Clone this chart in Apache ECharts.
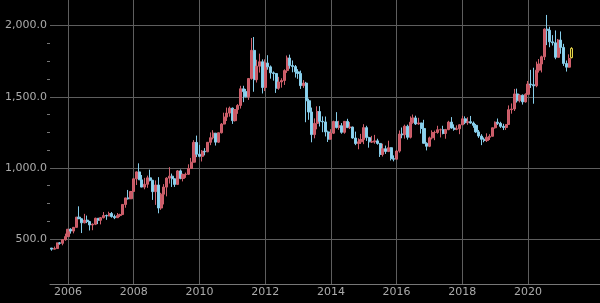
<!DOCTYPE html>
<html>
<head>
<meta charset="utf-8">
<script src="https://cdn.jsdelivr.net/npm/echarts@6/dist/echarts.min.js"></script>
<style>
html,body{margin:0;padding:0;background:#000;}
#c{width:600px;height:303px;}
</style>
</head>
<body>
<div id="c"></div>
<script>
// Monthly candles, Jul 2005 .. May 2021 (last one is the current, incomplete month)
const dates = [
 '2005-07','2005-08','2005-09','2005-10','2005-11','2005-12',
 '2006-01','2006-02','2006-03','2006-04','2006-05','2006-06','2006-07','2006-08','2006-09','2006-10','2006-11','2006-12',
 '2007-01','2007-02','2007-03','2007-04','2007-05','2007-06','2007-07','2007-08','2007-09','2007-10','2007-11','2007-12',
 '2008-01','2008-02','2008-03','2008-04','2008-05','2008-06','2008-07','2008-08','2008-09','2008-10','2008-11','2008-12',
 '2009-01','2009-02','2009-03','2009-04','2009-05','2009-06','2009-07','2009-08','2009-09','2009-10','2009-11','2009-12',
 '2010-01','2010-02','2010-03','2010-04','2010-05','2010-06','2010-07','2010-08','2010-09','2010-10','2010-11','2010-12',
 '2011-01','2011-02','2011-03','2011-04','2011-05','2011-06','2011-07','2011-08','2011-09','2011-10','2011-11','2011-12',
 '2012-01','2012-02','2012-03','2012-04','2012-05','2012-06','2012-07','2012-08','2012-09','2012-10','2012-11','2012-12',
 '2013-01','2013-02','2013-03','2013-04','2013-05','2013-06','2013-07','2013-08','2013-09','2013-10','2013-11','2013-12',
 '2014-01','2014-02','2014-03','2014-04','2014-05','2014-06','2014-07','2014-08','2014-09','2014-10','2014-11','2014-12',
 '2015-01','2015-02','2015-03','2015-04','2015-05','2015-06','2015-07','2015-08','2015-09','2015-10','2015-11','2015-12',
 '2016-01','2016-02','2016-03','2016-04','2016-05','2016-06','2016-07','2016-08','2016-09','2016-10','2016-11','2016-12',
 '2017-01','2017-02','2017-03','2017-04','2017-05','2017-06','2017-07','2017-08','2017-09','2017-10','2017-11','2017-12',
 '2018-01','2018-02','2018-03','2018-04','2018-05','2018-06','2018-07','2018-08','2018-09','2018-10','2018-11','2018-12',
 '2019-01','2019-02','2019-03','2019-04','2019-05','2019-06','2019-07','2019-08','2019-09','2019-10','2019-11','2019-12',
 '2020-01','2020-02','2020-03','2020-04','2020-05','2020-06','2020-07','2020-08','2020-09','2020-10','2020-11','2020-12',
 '2021-01','2021-02','2021-03','2021-04','2021-05'
];

const open = [
 437,429,433,473,470,495,
 517,569,556,582,654,643,614,633,623,599,604,646,
 632,650,665,662,679,658,650,665,672,743,789,783,
 834,923,972,916,865,885,930,913,833,880,718,815,
 865,928,942,924,884,979,926,954,955,996,1040,1179,
 1096,1081,1117,1113,1180,1212,1244,1181,1247,1308,1357,1385,
 1420,1332,1410,1439,1556,1536,1500,1628,1826,1620,1715,1746,
 1565,1737,1710,1668,1663,1560,1604,1614,1684,1772,1719,1712,
 1675,1664,1578,1596,1472,1393,1234,1313,1396,1327,1323,1253,
 1202,1244,1326,1284,1296,1250,1327,1283,1287,1210,1171,1183,
 1199,1283,1213,1183,1183,1190,1172,1095,1135,1115,1142,1065,
 1061,1118,1238,1233,1293,1215,1321,1351,1309,1316,1277,1173,
 1152,1211,1249,1249,1268,1268,1242,1269,1322,1280,1271,1275,
 1303,1345,1318,1325,1315,1299,1253,1224,1201,1192,1215,1222,
 1282,1321,1313,1292,1284,1305,1409,1414,1520,1472,1511,1464,
 1517,1589,1585,1577,1687,1730,1781,1975,1967,1886,1879,1777,
 1898,1847,1734,1708,1775
];
const close = [
 429,433,473,470,495,517,
 569,556,582,654,643,614,633,623,599,604,646,632,
 650,665,662,679,658,650,665,672,743,789,783,834,
 923,972,916,865,885,930,913,833,880,718,815,865,
 928,942,924,884,979,926,954,955,996,1040,1179,1096,
 1081,1117,1113,1180,1212,1244,1181,1247,1308,1357,1385,1420,
 1332,1410,1439,1556,1536,1500,1628,1826,1620,1715,1746,1565,
 1737,1710,1668,1663,1560,1604,1614,1684,1772,1719,1712,1675,
 1664,1578,1596,1472,1393,1234,1313,1396,1327,1323,1253,1202,
 1244,1326,1284,1296,1250,1327,1283,1287,1210,1171,1183,1199,
 1283,1213,1183,1183,1190,1172,1095,1135,1115,1142,1065,1061,
 1118,1238,1233,1293,1215,1321,1351,1309,1316,1277,1173,1152,
 1211,1249,1249,1268,1268,1242,1269,1322,1280,1271,1275,1303,
 1345,1318,1325,1315,1299,1253,1224,1201,1192,1215,1222,1282,
 1321,1313,1292,1284,1305,1409,1414,1520,1472,1511,1464,1517,
 1589,1585,1577,1687,1730,1781,1975,1967,1886,1879,1777,1898,
 1847,1734,1708,1769,1840
];
const low = [
 418,428,433,460,456,488,
 516,538,540,581,640,542,610,612,560,562,598,605,
 603,645,635,660,650,640,648,655,670,720,777,781,
 834,880,915,864,850,860,905,775,740,681,705,743,
 800,890,866,866,880,920,905,930,950,995,1040,1076,
 1075,1045,1088,1111,1160,1200,1157,1176,1242,1306,1330,1360,
 1309,1326,1380,1417,1462,1496,1478,1620,1535,1600,1670,1523,
 1540,1690,1627,1613,1527,1549,1564,1583,1668,1697,1672,1635,
 1626,1555,1562,1321,1338,1180,1208,1271,1291,1251,1221,1182,
 1200,1238,1277,1268,1240,1240,1280,1273,1205,1160,1131,1168,
 1167,1190,1142,1175,1170,1163,1077,1080,1098,1111,1052,1046,
 1062,1107,1208,1206,1199,1207,1310,1302,1303,1241,1171,1123,
 1146,1200,1195,1240,1214,1236,1205,1265,1275,1261,1265,1237,
 1302,1307,1303,1310,1282,1246,1211,1160,1180,1182,1196,1221,
 1276,1302,1281,1266,1267,1304,1381,1400,1459,1460,1445,1459,
 1517,1562,1451,1567,1670,1671,1758,1863,1848,1860,1764,1776,
 1802,1717,1677,1705,1770
];
const high = [
 437,447,475,479,496,538,
 570,576,585,654,730,644,677,665,628,610,650,648,
 655,690,672,692,690,672,683,678,745,790,845,838,
 930,975,1032,950,930,946,988,916,912,935,825,886,
 934,1005,960,925,985,989,960,967,1025,1070,1195,1227,
 1162,1125,1139,1182,1249,1265,1245,1248,1315,1388,1424,1431,
 1424,1411,1448,1577,1577,1555,1632,1913,1920,1760,1803,1763,
 1763,1792,1720,1678,1667,1640,1630,1693,1790,1796,1755,1723,
 1694,1684,1617,1605,1487,1424,1348,1433,1434,1362,1361,1262,
 1272,1332,1392,1331,1315,1327,1345,1322,1290,1255,1208,1239,
 1307,1296,1219,1225,1232,1205,1175,1170,1157,1191,1146,1088,
 1125,1263,1284,1304,1304,1362,1375,1367,1352,1317,1338,1180,
 1220,1264,1262,1296,1276,1296,1274,1331,1357,1306,1299,1307,
 1366,1362,1356,1365,1326,1309,1266,1237,1214,1243,1237,1284,
 1326,1347,1324,1310,1306,1439,1453,1555,1557,1518,1516,1524,
 1611,1689,1704,1747,1765,1789,1981,2075,1992,1933,1966,1906,
 1959,1872,1755,1798,1848
];

const yearTicks = [2006, 2008, 2010, 2012, 2014, 2016, 2018, 2020];
const priceTicks = [500, 1000, 1500, 2000];
const minorPriceTicks = [625, 750, 875, 1125, 1250, 1375, 1625, 1750, 1875];

const toYear = s => { const p = s.split('-'); return +p[0] + (+p[1] - 1) / 12; };
const lastIdx = dates.length - 1;
const candles = dates.map((d, i) => {
  const item = { value: [toYear(d), open[i], close[i], low[i], high[i]] };
  if (i === lastIdx) {
    item.itemStyle = { color: '#2a2400', color0: '#2a2400', borderColor: '#e8d64a', borderColor0: '#e8d64a', borderWidth: 1 };
  }
  return item;
});

const chart = echarts.init(document.getElementById('c'), null, { renderer: 'canvas' });
const gridColor = '#5e5e5e';
const textColor = '#ababab';
chart.setOption({
  backgroundColor: '#000000',
  animation: false,
  grid: { left: 50, right: 0, top: 0, bottom: 19, containLabel: false, outerBoundsMode: 'none' },
  xAxis: {
    type: 'value',
    min: 2005.452,
    max: 2022.19,
    axisLine: { show: true, lineStyle: { color: '#777777', width: 1 } },
    axisTick: { show: false, customValues: yearTicks },
    axisLabel: { customValues: yearTicks, color: textColor, fontFamily: 'DejaVu Sans', fontSize: 11, margin: 3, formatter: v => String(Math.round(v)) },
    splitLine: { show: true, lineStyle: { color: gridColor, width: 1 } }
  },
  yAxis: [{
    type: 'value',
    min: 184,
    max: 2180,
    axisLine: { show: false },
    axisTick: { show: false, customValues: priceTicks },
    axisLabel: { customValues: priceTicks, color: textColor, fontFamily: 'DejaVu Sans', fontSize: 11, margin: 3,
      formatter: v => v.toLocaleString('en-US', { minimumFractionDigits: 1, maximumFractionDigits: 1 }) },
    splitLine: { show: true, lineStyle: { color: gridColor, width: 1 } }
  }, {
    type: 'value',
    position: 'left',
    min: 184,
    max: 2180,
    axisLine: { show: false },
    axisLabel: { show: false },
    splitLine: { show: false },
    axisTick: { show: true, customValues: minorPriceTicks, length: 3, lineStyle: { color: '#777', width: 1 } }
  }],
  series: [{
    type: 'candlestick',
    data: candles,
    barWidth: 2.6,
    itemStyle: {
      color: '#c85a66',
      color0: '#8fd3ee',
      borderColor: '#d0606c',
      borderColor0: '#86cdea',
      borderWidth: 1
    }
  }]
});
</script>
</body>
</html>
